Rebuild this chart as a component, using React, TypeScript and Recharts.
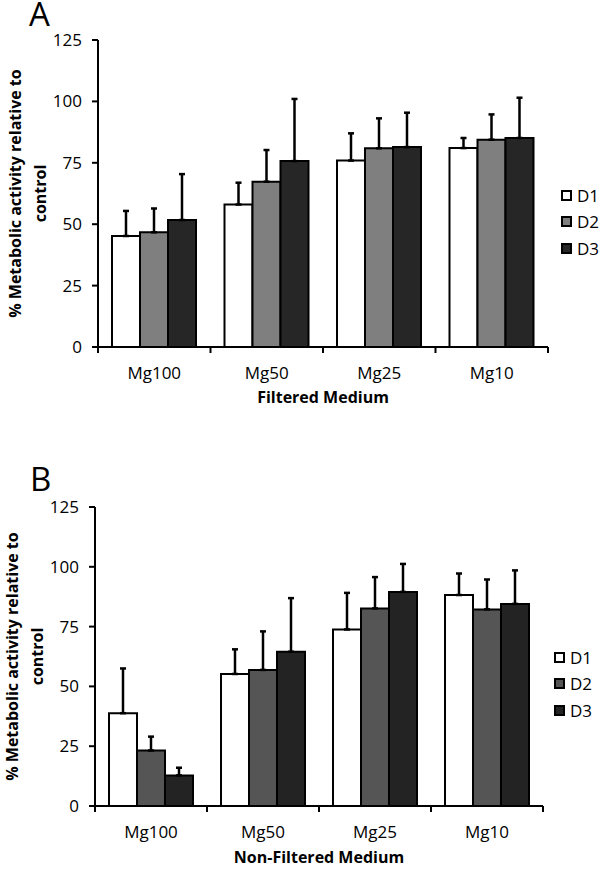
import React from "react";
import { BarChart, Bar, XAxis, YAxis, ErrorBar, Legend } from "recharts";

const categories = ["Mg100", "Mg50", "Mg25", "Mg10"];
const seriesNames = ["D1", "D2", "D3"];
const yTicks = [0, 25, 50, 75, 100, 125];

// panel A - filtered medium (mean and upper SD)
const filteredD1 = [45.2, 58, 75.9, 81];
const filteredD1Sd = [10.2, 8.9, 11.1, 4.1];
const filteredD2 = [46.7, 67.3, 80.9, 84.4];
const filteredD2Sd = [9.7, 12.9, 12.2, 10.3];
const filteredD3 = [51.7, 75.7, 81.4, 85.1];
const filteredD3Sd = [18.7, 25.3, 14, 16.4];

// panel B - non-filtered medium
const nonFilteredD1 = [38.8, 55.2, 73.8, 88.2];
const nonFilteredD1Sd = [18.7, 10.3, 15.3, 9];
const nonFilteredD2 = [23.2, 56.9, 82.6, 82.2];
const nonFilteredD2Sd = [5.8, 16.1, 13.1, 12.5];
const nonFilteredD3 = [12.8, 64.5, 89.5, 84.5];
const nonFilteredD3Sd = [3.2, 22.4, 11.7, 14];

function buildRows(means: number[][], sds: number[][]) {
  return categories.map((name, i) => {
    const row: any = { name };
    seriesNames.forEach((s, j) => {
      row[s] = means[j][i];
      row[s + "Err"] = [0, sds[j][i]];
    });
    return row;
  });
}

const filteredRows = buildRows(
  [filteredD1, filteredD2, filteredD3],
  [filteredD1Sd, filteredD2Sd, filteredD3Sd]
);
const nonFilteredRows = buildRows(
  [nonFilteredD1, nonFilteredD2, nonFilteredD3],
  [nonFilteredD1Sd, nonFilteredD2Sd, nonFilteredD3Sd]
);

const FONT = "'Open Sans', sans-serif";
const TICK_MARGIN = 20;

// category label plus the little tick marks on the group boundaries
function CategoryTick(props: any) {
  const { x, y, payload, index } = props;
  const half = payload.offset || 0;
  const axisY = y - TICK_MARGIN;
  const last = index === categories.length - 1;
  return (
    <g>
      <line x1={x - half} y1={axisY} x2={x - half} y2={axisY + 6} stroke="#000" strokeWidth={2} />
      {last && (
        <line x1={x + half} y1={axisY} x2={x + half} y2={axisY + 6} stroke="#000" strokeWidth={2} />
      )}
      <text x={x} y={y} dy="0.71em" textAnchor="middle" fill="#000" fontSize={17}>
        {payload.value}
      </text>
    </g>
  );
}

function YTitle(props: any) {
  const { viewBox, line1X, line2X } = props;
  const cy = viewBox.y + viewBox.height / 2;
  const x1 = viewBox.x + line1X;
  const x2 = viewBox.x + line2X;
  const style = { fontWeight: 700, fontSize: 16, fill: "#000" };
  return (
    <g>
      <text
        x={x1}
        y={cy}
        transform={`rotate(-90 ${x1} ${cy})`}
        textAnchor="middle"
        dominantBaseline="central"
        style={style}
      >
        % Metabolic activity relative to
      </text>
      <text
        x={x2}
        y={cy}
        transform={`rotate(-90 ${x2} ${cy})`}
        textAnchor="middle"
        dominantBaseline="central"
        style={style}
      >
        control
      </text>
    </g>
  );
}

function Panel(props: any) {
  const { rows, colors, xTitle, height, margin, yWidth, legendPos, line1X, line2X, titleOffset } = props;

  const renderLegend = () => (
    <div>
      {seriesNames.map((s, i) => (
        <div key={s} style={{ display: "flex", alignItems: "center", height: 26.5 }}>
          <span
            style={{
              display: "inline-block",
              width: 7,
              height: 7,
              border: "2px solid #000",
              background: colors[i],
              marginRight: 5,
            }}
          />
          <span style={{ fontSize: 17, color: "#000", lineHeight: 1 }}>{s}</span>
        </div>
      ))}
    </div>
  );

  return (
    <BarChart width={600} height={height} data={rows} margin={margin} barGap={0}>
      <XAxis
        dataKey="name"
        interval={0}
        tickLine={false}
        tickSize={0}
        tickMargin={TICK_MARGIN}
        axisLine={{ stroke: "#000", strokeWidth: 2 }}
        tick={<CategoryTick />}
        height={60}
        label={{
          value: xTitle,
          position: "insideBottom",
          offset: titleOffset,
          fill: "#000",
          fontWeight: 700,
          fontSize: 16,
        }}
      />
      <YAxis
        type="number"
        domain={[0, 125]}
        ticks={yTicks}
        width={yWidth}
        tickSize={6}
        tickMargin={10}
        axisLine={{ stroke: "#000", strokeWidth: 2 }}
        tickLine={{ stroke: "#000", strokeWidth: 2 }}
        tick={{ fill: "#000", fontSize: 17 }}
        label={<YTitle line1X={line1X} line2X={line2X} />}
      />
      <Legend
        layout="vertical"
        align="right"
        verticalAlign="top"
        wrapperStyle={{ position: "absolute", left: legendPos.left, top: legendPos.top, width: 40 }}
        content={renderLegend}
      />
      {seriesNames.map((s, i) => (
        <Bar
          key={s}
          dataKey={s}
          fill={colors[i]}
          stroke="#000"
          strokeWidth={2}
          barSize={28}
          isAnimationActive={false}
        >
          <ErrorBar
            dataKey={s + "Err"}
            direction="y"
            width={3}
            stroke="#000"
            strokeWidth={2.5}
            isAnimationActive={false}
          />
        </Bar>
      ))}
    </BarChart>
  );
}

export default function App() {
  return (
    <div
      style={{
        position: "absolute",
        left: 0,
        top: 0,
        width: 600,
        height: 869,
        background: "#fff",
        fontFamily: FONT,
        overflow: "hidden",
      }}
    >
      <div style={{ position: "absolute", left: 0, top: 0 }}>
        <Panel
          rows={filteredRows}
          colors={["#ffffff", "#7f7f7f", "#262626"]}
          xTitle="Filtered Medium"
          height={420}
          margin={{ top: 40, right: 12, bottom: 13, left: 0 }}
          yWidth={98}
          legendPos={{ left: 561, top: 182 }}
          line1X={15}
          line2X={40}
          titleOffset={4}
        />
      </div>
      <div style={{ position: "absolute", left: 0, top: 430 }}>
        <Panel
          rows={nonFilteredRows}
          colors={["#ffffff", "#555555", "#232323"]}
          xTitle="Non-Filtered Medium"
          height={439}
          margin={{ top: 77, right: 17, bottom: 3, left: 0 }}
          yWidth={95}
          legendPos={{ left: 554, top: 214 }}
          line1X={12}
          line2X={37}
          titleOffset={3}
        />
      </div>
      <div style={{ position: "absolute", left: 29, top: 0, fontSize: 33, lineHeight: "28px" }}>A</div>
      <div style={{ position: "absolute", left: 30, top: 465, fontSize: 33, lineHeight: "28px" }}>B</div>
    </div>
  );
}
